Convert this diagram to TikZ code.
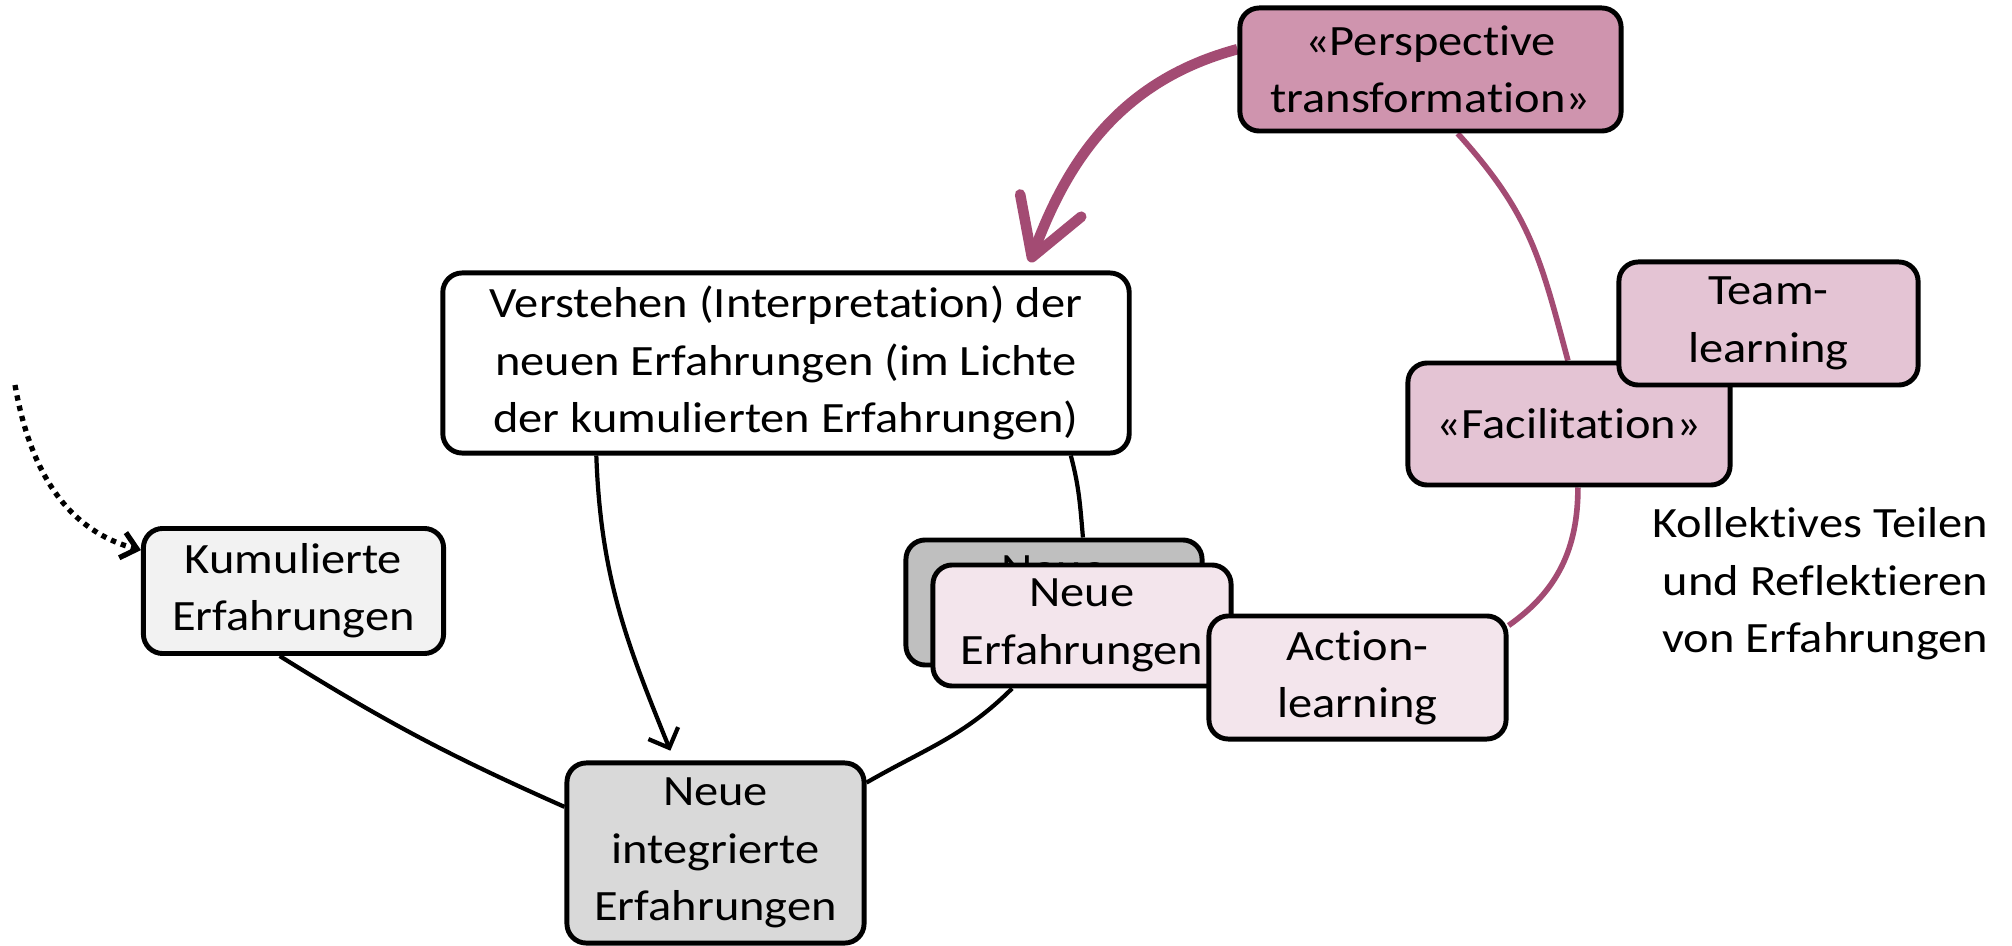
\documentclass[tikz,border=0pt]{standalone}
\usepackage{fontspec}
\setmainfont{Carlito}[FakeStretch=1.12, Ligatures=NoCommon]
\usepackage{tikz}
\usetikzlibrary{arrows.meta,backgrounds}
\definecolor{mauve}{HTML}{A34B73}
\definecolor{perspfill}{HTML}{CF94AE}
\definecolor{facilfill}{HTML}{E4C4D4}
\definecolor{lightfill}{HTML}{F3E5EC}

\begin{document}
\begin{tikzpicture}[x=0.01cm,y=0.01cm,
  box/.style={draw, line width=1.4pt, rounded corners=5.5pt, align=center,
    inner sep=0pt, font=\fontsize{12.3}{16.3}\selectfont},
  link/.style={line width=1.2pt},
  mlink/.style={mauve, line width=1.6pt},
  thinarrow/.style={link, -{Straight Barb[length=1.6mm,width=3.2mm]}, shorten >=3pt},
  dotarrow/.style={line width=1.5pt, dash pattern=on 1.5pt off 1.5pt,
    -{Straight Barb[length=1.5mm,width=2.6mm]}}]

    \useasboundingbox (0,0) rectangle (2012,-946);

% the boxes
    \node[box, fill=black!5, minimum width=3cm, minimum height=1.25cm] (kum) at (293.5,-591) {Kumulierte\\Erfahrungen};
    \node[box, fill=white, minimum width=6.86cm, minimum height=1.8cm] (vers) at (786,-363)
      {Verstehen (Interpretation) der\\neuen Erfahrungen (im Lichte\\der kumulierten Erfahrungen)};
    \node[box, fill=black!15, minimum width=2.97cm, minimum height=1.8cm] (nie) at (715.5,-853) {Neue\\integrierte\\Erfahrungen};
    \node[box, fill=black!25, minimum width=2.96cm, minimum height=1.25cm] (back) at (1054,-602.5) {Neue\\Erfahrungen};
    \node[box, fill=lightfill, minimum width=2.98cm, minimum height=1.21cm] (neu) at (1082,-625.5) {Neue\\Erfahrungen};
    \node[box, fill=lightfill, minimum width=2.97cm, minimum height=1.23cm] (act) at (1357.5,-677.5) {Action-\\learning};
    \node[box, fill=facilfill, minimum width=3.22cm, minimum height=1.22cm] (fac) at (1569,-424) {«Facilitation»};
    \node[box, fill=facilfill, minimum width=2.99cm, minimum height=1.23cm] (team) at (1768.5,-323.5) {Team-\\learning};
    \node[box, fill=perspfill, minimum width=3.81cm, minimum height=1.23cm] (persp) at (1430.5,-69.5) {«Perspective\\transformation»};
    \node[align=right, anchor=east, inner sep=0pt, font=\fontsize{12.3}{16.3}\selectfont] (koll) at (1989,-584)
      {Kollektives Teilen\\und Reflektieren\\von Erfahrungen};

% the links
    \coordinate (src) at (15,-385);
    \begin{scope}[on background layer]
    \draw[dotarrow] (src) to[out=-80,in=165] (kum.165);
    \draw[link] (kum.-102) to[bend right=4] (nie.163);
    \draw[thinarrow] (vers.-154) to[out=-88,in=112] (nie.114);
    \draw[link] (vers.-18) to[out=-75,in=95] (back.66);
    \draw[link] (neu.-138) to[out=-135,in=30] (nie.25);
    \draw[mlink] (persp.-67) to[out=-48,in=105,looseness=1.1] (fac.91);
    \draw[mlink] (fac.-82) to[out=-90,in=35] (act.19);
    \draw[mauve, line width=3pt, -{Straight Barb[round,length=5.5mm,width=6.5mm]}, shorten >=2.5pt]
      (persp.174) to[out=195,in=70] (vers.21);
    \end{scope}
\end{tikzpicture}
\end{document}
